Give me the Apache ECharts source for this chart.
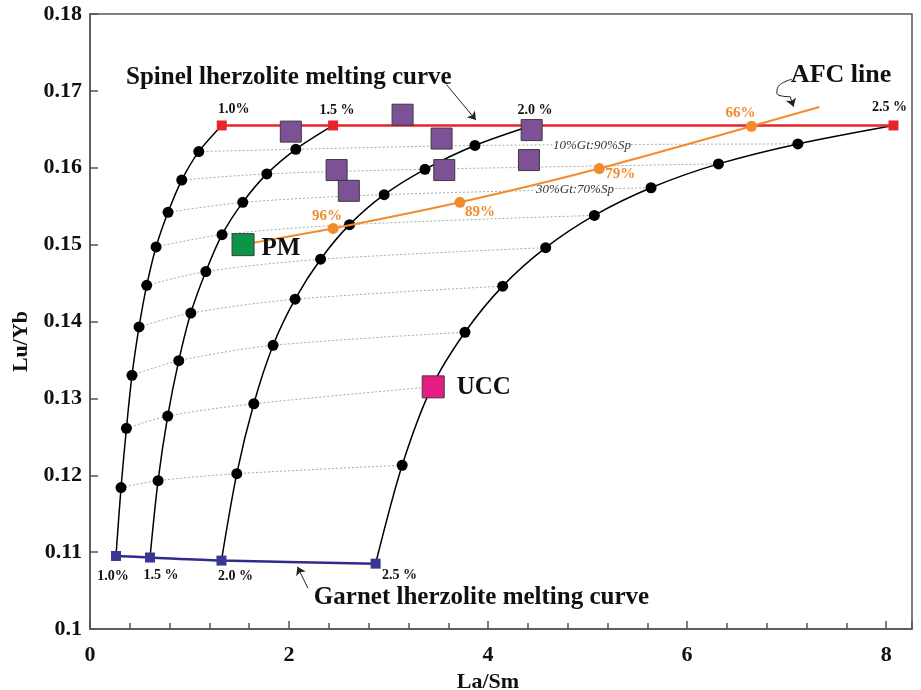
<!DOCTYPE html>
<html lang="en">
<head>
<meta charset="utf-8">
<title>La/Sm vs Lu/Yb melting model</title>
<script src="https://cdn.jsdelivr.net/npm/echarts@6/dist/echarts.min.js"></script>
<style>
  html, body { margin: 0; padding: 0; background: #fff; }
  #chart { width: 921px; height: 690px; }
</style>
</head>
<body>
<div id="chart"></div>
<script>
// melting curves, dots listed from the spinel end (top) to the garnet end (bottom)
const curve10 = [[1.093,0.1621],[0.922,0.1584],[0.784,0.1542],[0.664,0.1497],[0.570,0.1447],[0.493,0.1393],[0.422,0.1330],[0.366,0.1261],[0.312,0.1184]];
const curve15 = [[2.068,0.1624],[1.777,0.1592],[1.535,0.1555],[1.327,0.1513],[1.164,0.1465],[1.013,0.1411],[0.892,0.1349],[0.781,0.1277],[0.684,0.1193]];
const curve20 = [[3.868,0.1629],[3.366,0.1598],[2.956,0.1565],[2.608,0.1526],[2.317,0.1481],[2.061,0.1429],[1.840,0.1369],[1.646,0.1293],[1.475,0.1202]];
const curve25 = [[7.113,0.1631],[6.315,0.1605],[5.638,0.1574],[5.068,0.1538],[4.579,0.1496],[4.147,0.1446],[3.768,0.1386],[3.435,0.1315],[3.137,0.1213]];
const curves = [curve10, curve15, curve20, curve25];

const spinelEnds = [[1.324,0.1655],[2.443,0.1655],[4.441,0.1655],[8.074,0.1655]];
const garnetEnds = [[0.261,0.1095],[0.603,0.1093],[1.321,0.1089],[2.870,0.1085]];
const meltLabels = ['1.0%', '1.5 %', '2.0 %', '2.5 %'];

// AFC line starts at PM
const afcPoints = [[1.538,0.1500],[2.443,0.1521],[3.717,0.1555],[5.118,0.1599],[6.647,0.1654],[7.330,0.1679]];
const afcLabels = ['', '96%', '89%', '79%', '66%', ''];

const samples = [[2.018,0.1647],[3.141,0.1669],[3.533,0.1638],[2.478,0.1597],[2.601,0.1570],[3.560,0.1597],[4.438,0.1649],[4.411,0.1610]];
const pm = [1.538, 0.1500];
const ucc = [3.449, 0.1315];

const xTicks = [0, 2, 4, 6, 8];

// label placement (pixels)
const topOffsets = [[12,-16],[4,-15],[3,-15],[-4,-18]];
const bottomOffsets = [[-3,20],[11,18],[14,16],[24,12]];
const afcOffsets = [[0,0],[-6,-12],[20,10],[21,6],[-11,-13],[0,0]];

const serif = 'Liberation Serif';
const ink = '#111';
const red = '#e8232b';
const blue = '#302c8e';
const orange = '#f28a2e';

// text notes placed in data space
const notes = [
  { at: [1.998, 0.17167], text: 'Spinel lherzolite melting curve', size: 25, bold: true },
  { at: [3.934, 0.10403], text: 'Garnet lherzolite melting curve', size: 25, bold: true },
  { at: [7.547, 0.17207], text: 'AFC line', size: 26, bold: true },
  { at: [5.044, 0.16283], text: '10%Gt:90%Sp', size: 13, italic: true },
  { at: [4.873, 0.15711], text: '30%Gt:70%Sp', size: 13, italic: true }
];
const afcArrow = [[7.053,0.17151],[6.915,0.17054],[6.902,0.16968],[7.036,0.16924],[7.069,0.16794]];

const chart = echarts.init(document.getElementById('chart'));

const series = [];

// dotted tie lines joining equal Gt:Sp proportions
for (let k = 0; k < curve10.length; k++) {
  series.push({
    type: 'line', smooth: 0.3, silent: true, symbol: 'none', z: 1,
    lineStyle: { color: '#aaa', width: 1, type: [2, 2] },
    data: curves.map(c => c[k])
  });
}

// black melting curves
curves.forEach((c, i) => {
  series.push({
    type: 'line', smooth: 0.3, silent: true, showSymbol: false, z: 2,
    lineStyle: { color: '#000', width: 1.5 },
    data: [garnetEnds[i]].concat(c.slice().reverse(), [spinelEnds[i]])
  });
});

series.push({
  type: 'scatter', symbol: 'circle', symbolSize: 11, z: 3,
  itemStyle: { color: '#000', opacity: 1 },
  data: [].concat(...curves)
});

const pctLabel = { show: true, position: 'inside', fontFamily: serif, fontWeight: 'bold', fontSize: 14, color: ink };

series.push({
  type: 'line', z: 4, symbol: 'rect', symbolSize: 10,
  lineStyle: { color: red, width: 2.5 }, itemStyle: { color: red },
  data: spinelEnds.map((p, i) => ({ value: p, label: Object.assign({}, pctLabel, { formatter: meltLabels[i], offset: topOffsets[i] }) }))
});

series.push({
  type: 'line', z: 4, symbol: 'rect', symbolSize: 10, smooth: 0.3,
  lineStyle: { color: blue, width: 2.5 }, itemStyle: { color: '#3a3693' },
  data: garnetEnds.map((p, i) => ({ value: p, label: Object.assign({}, pctLabel, { formatter: meltLabels[i], offset: bottomOffsets[i] }) }))
});

series.push({
  type: 'line', z: 5, smooth: 0.2, symbol: 'circle', symbolSize: 11,
  lineStyle: { color: orange, width: 2 }, itemStyle: { color: orange },
  data: afcPoints.map((p, i) => ({
    value: p,
    symbol: afcLabels[i] ? 'circle' : 'none',
    label: { show: !!afcLabels[i], position: 'inside', formatter: afcLabels[i], offset: afcOffsets[i],
             fontFamily: serif, fontWeight: 'bold', fontSize: 15, color: orange }
  }))
});

series.push({
  type: 'scatter', symbol: 'rect', symbolSize: 21, z: 6,
  itemStyle: { color: '#7d5196', borderColor: '#3b3b3b', borderWidth: 1, opacity: 1 },
  data: samples
});

const bigLabel = { show: true, position: 'right', fontFamily: serif, fontWeight: 'bold', fontSize: 25, color: ink };
series.push({
  type: 'scatter', symbol: 'rect', symbolSize: 22, z: 7,
  itemStyle: { color: '#0b9547', borderColor: '#3b3b3b', borderWidth: 1, opacity: 1 },
  label: Object.assign({}, bigLabel, { formatter: 'PM', distance: 7, offset: [0, 4] }),
  data: [pm]
});
series.push({
  type: 'scatter', symbol: 'rect', symbolSize: 22, z: 7,
  itemStyle: { color: '#e61c82', borderColor: '#3b3b3b', borderWidth: 1, opacity: 1 },
  label: Object.assign({}, bigLabel, { formatter: 'UCC', distance: 12, offset: [0, 1] }),
  data: [ucc]
});

// notes and pointer arrows
const arrowLine = { color: '#222', width: 1, type: 'solid' };
series.push({
  type: 'scatter', symbolSize: 0, silent: true, z: 4,
  itemStyle: { opacity: 1 },
  data: notes.map(n => ({
    value: n.at,
    label: {
      show: true, position: 'inside', formatter: n.text,
      fontFamily: serif, fontSize: n.size,
      fontWeight: n.bold ? 'bold' : 'normal', fontStyle: n.italic ? 'italic' : 'normal',
      color: n.italic ? '#333' : ink,
      backgroundColor: n.italic ? '#fff' : 'transparent', padding: 0
    }
  })),
  markLine: {
    silent: true, symbol: ['none', 'arrow'], symbolSize: 8,
    lineStyle: arrowLine, label: { show: false },
    data: [
      [{ coord: [3.583, 0.1708] }, { coord: [3.878, 0.1662] }],
      [{ coord: [2.189, 0.10533] }, { coord: [2.085, 0.1081] }],
      [{ coord: afcArrow[3] }, { coord: afcArrow[4] }]
    ]
  }
});
series.push({
  type: 'line', smooth: 0.5, silent: true, symbol: 'none', z: 4,
  lineStyle: arrowLine,
  data: afcArrow.slice(0, 4)
});

const tickFont = { fontFamily: serif, fontWeight: 'bold', fontSize: 22, color: ink };

chart.setOption({
  backgroundColor: '#fff',
  animation: false,
  grid: { left: 90, right: 9, top: 14, bottom: 61, outerBoundsMode: 'none', show: true, borderColor: '#555', borderWidth: 1.5 },
  xAxis: {
    type: 'value', min: 0, max: 8.26, interval: 2,
    name: 'La/Sm', nameLocation: 'middle', nameGap: 41,
    nameTextStyle: Object.assign({}, tickFont, { padding: [0, 26, 0, 0] }),
    axisLine: { lineStyle: { color: '#555', width: 1.5 } },
    axisTick: { inside: true, length: 8, lineStyle: { color: '#555', width: 1.5 } },
    minorTick: { show: true, splitNumber: 5, length: 6, lineStyle: { color: '#555', width: 1.5 } },
    splitLine: { show: false },
    axisLabel: Object.assign({}, tickFont, { margin: 15, customValues: xTicks }),
  },
  yAxis: {
    type: 'value', min: 0.1, max: 0.18, interval: 0.01,
    name: 'Lu/Yb', nameLocation: 'middle', nameGap: 56, nameRotate: 90,
    nameTextStyle: Object.assign({}, tickFont, { padding: [0, 40, 0, 0] }),
    axisLine: { lineStyle: { color: '#555', width: 1.5 } },
    axisTick: { inside: true, length: 8, lineStyle: { color: '#555', width: 1.5 } },
    splitLine: { show: false },
    axisLabel: Object.assign({}, tickFont, { margin: 8, padding: [5, 0, 0, 0], formatter: v => String(+v.toFixed(2)) })
  },
  series: series
});
</script>
</body>
</html>
